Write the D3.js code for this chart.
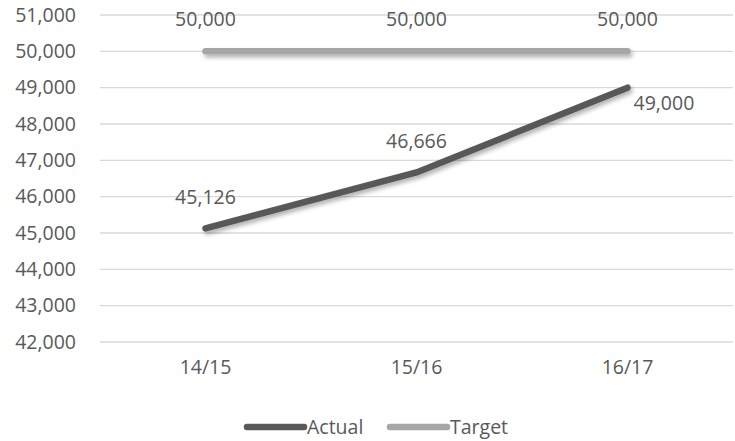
<!DOCTYPE html>
<html>
<head>
<meta charset="utf-8">
<script src="https://cdn.jsdelivr.net/npm/d3@7"></script>
<style>
  html, body { margin: 0; padding: 0; background: #fff; }
  svg text { font-family: "Open Sans", sans-serif; fill: #595959; }
</style>
</head>
<body>
<svg id="chart" width="735" height="441"></svg>
<script>
// Season labels and series values
const seasons = ["14/15", "15/16", "16/17"];
const actualValues = [45126, 46666, 49000];
const targetValues = [50000, 50000, 50000];
const yTicks = [42000, 43000, 44000, 45000, 46000, 47000, 48000, 49000, 50000, 51000];
const seriesNames = ["Actual", "Target"];

const svg = d3.select("#chart");
const margin = { left: 100, right: 2, top: 15, bottom: 99 };
const W = 735, H = 441;

const x = d3.scaleBand().domain(seasons).range([margin.left, W - margin.right]);
const y = d3.scaleLinear().domain([42000, 51000]).range([H - margin.bottom, margin.top]);
const fmt = d3.format(",");

// Soft drop shadow under the lines (user-space region so flat lines keep it)
const defs = svg.append("defs");
const f = defs.append("filter").attr("id", "shadow")
  .attr("filterUnits", "userSpaceOnUse")
  .attr("x", 0).attr("y", 0).attr("width", W).attr("height", H);
f.append("feDropShadow").attr("dx", 2).attr("dy", 3).attr("stdDeviation", 2)
  .attr("flood-color", "#000").attr("flood-opacity", 0.3);

// Horizontal gridlines
svg.append("g").selectAll("line").data(yTicks).join("line")
  .attr("x1", margin.left).attr("x2", W - margin.right)
  .attr("y1", d => y(d)).attr("y2", d => y(d))
  .attr("stroke", "#d9d9d9").attr("stroke-width", 1.3);

// Y axis labels
const yAxis = d3.axisLeft(y).tickValues(yTicks).tickFormat(fmt).tickSize(0).tickPadding(24);
const gy = svg.append("g").attr("transform", `translate(${margin.left},0)`).call(yAxis);
gy.select(".domain").remove();
gy.selectAll("text").attr("font-size", 19.5).attr("fill", "#595959")
  .style("font-family", '"Open Sans", sans-serif');

// X axis labels
const xAxis = d3.axisBottom(x).tickSize(0).tickPadding(18);
const gx = svg.append("g").attr("transform", `translate(0,${H - margin.bottom})`).call(xAxis);
gx.select(".domain").remove();
gx.selectAll("text").attr("font-size", 19.5).attr("fill", "#595959")
  .style("font-family", '"Open Sans", sans-serif');

const cx = d => x(d) + x.bandwidth() / 2;
const line = d3.line().x(d => cx(d.s)).y(d => y(d.v));

const target = seasons.map((s, i) => ({ s, v: targetValues[i] }));
const actual = seasons.map((s, i) => ({ s, v: actualValues[i] }));

svg.append("path").datum(target).attr("d", line)
  .attr("fill", "none").attr("stroke", "#a6a6a6").attr("stroke-width", 6.5)
  .attr("stroke-linecap", "round").attr("stroke-linejoin", "round")
  .attr("filter", "url(#shadow)");

svg.append("path").datum(actual).attr("d", line)
  .attr("fill", "none").attr("stroke", "#595959").attr("stroke-width", 6.5)
  .attr("stroke-linecap", "round").attr("stroke-linejoin", "round")
  .attr("filter", "url(#shadow)");

// Data labels
svg.append("g").selectAll("text").data(target).join("text")
  .attr("x", d => cx(d.s)).attr("y", d => y(d.v) - 25)
  .attr("text-anchor", "middle").attr("font-size", 19.5).text(d => fmt(d.v));

svg.append("g").selectAll("text").data(actual).join("text")
  .attr("x", (d, i) => i === 2 ? cx(d.s) + 6 : cx(d.s))
  .attr("y", (d, i) => i === 2 ? y(d.v) + 22 : y(d.v) - 24)
  .attr("text-anchor", (d, i) => i === 2 ? "start" : "middle")
  .attr("font-size", 19.5).text(d => fmt(d.v));

// Legend
const legendColors = ["#595959", "#a6a6a6"];
const legendX = [247, 390];
const lg = svg.append("g").selectAll("g").data(seriesNames).join("g")
  .attr("transform", (d, i) => `translate(${legendX[i]},427)`);
lg.append("line").attr("x1", 0).attr("x2", 57).attr("y1", 0).attr("y2", 0)
  .attr("stroke", (d, i) => legendColors[i]).attr("stroke-width", 6.5)
  .attr("stroke-linecap", "round");
lg.append("text").attr("x", 60).attr("y", 7).attr("font-size", 19.5).text(d => d);
</script>
</body>
</html>
